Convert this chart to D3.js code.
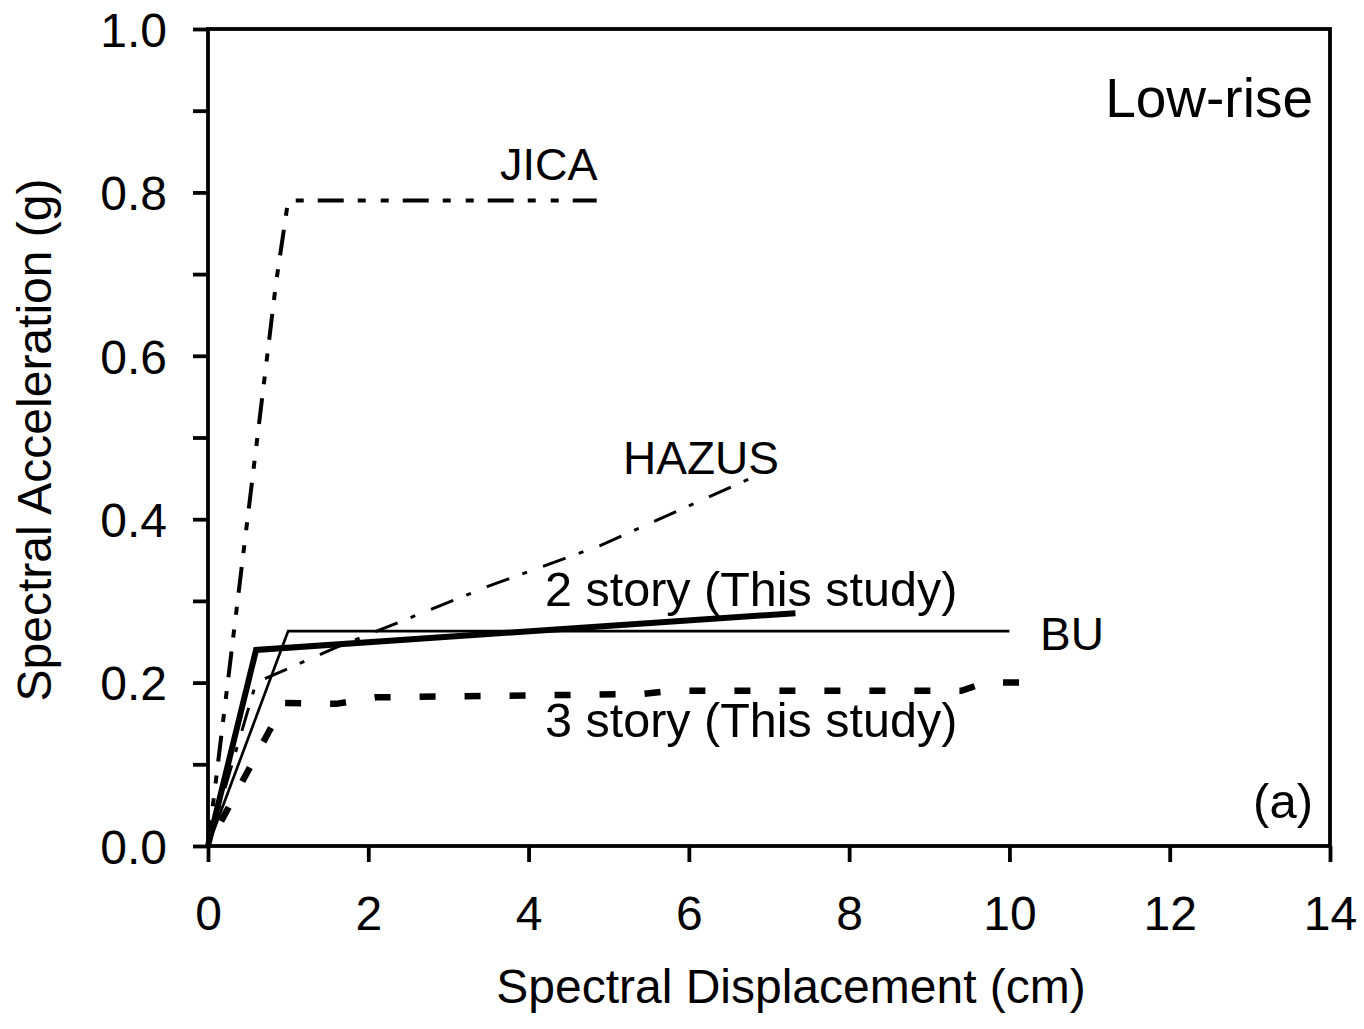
<!DOCTYPE html>
<html>
<head>
<meta charset="utf-8">
<script src="https://cdn.jsdelivr.net/npm/d3@7"></script>
<style>
  body { margin: 0; background: #fff; }
  svg text { font-family: "Liberation Sans", Arial, sans-serif; fill: #000; }
</style>
</head>
<body>
<div class="graph"></div>
<script>
// capacity curves, [Sd (cm), Sa (g)]
var jica = [[0, 0], [0.85, 0.69], [1.0, 0.79], [4.85, 0.79]];
var hazus = [[0, 0], [0.6, 0.2], [1.6, 0.243], [3.5, 0.318], [4.9, 0.368], [6.95, 0.458]];
var story2 = [[0, 0], [0.6, 0.24], [7.33, 0.285]];
var bu = [[0, 0], [1.0, 0.263], [10.0, 0.263]];
var story3 = [[0, 0], [0.95, 0.175], [1.6, 0.174], [2.1, 0.182], [5.4, 0.186], [5.8, 0.19], [9.4, 0.19], [9.7, 0.2], [10.12, 0.2]];

var xTicks = [0, 2, 4, 6, 8, 10, 12, 14];
var yTicks = [0, 0.1, 0.2, 0.3, 0.4, 0.5, 0.6, 0.7, 0.8, 0.9, 1.0];
var yLabels = [0, 0.2, 0.4, 0.6, 0.8, 1.0];

var w = 1364, h = 1029;
var margin = { top: 29, right: 34, bottom: 183, left: 208 };

var svg = d3.select(".graph")
    .append("svg")
    .attr("width", w)
    .attr("height", h);

var x = d3.scaleLinear().domain([0, 14]).range([margin.left, w - margin.right]);
var y = d3.scaleLinear().domain([0, 1]).range([h - margin.bottom, margin.top]);

// axes
var xAxis = svg.append("g")
    .attr("transform", "translate(0," + y(0) + ")")
    .call(d3.axisBottom(x).tickValues(xTicks).tickSize(16).tickPadding(34).tickFormat(d3.format("d")));

var yAxis = svg.append("g")
    .attr("transform", "translate(" + x(0) + ",0)")
    .call(d3.axisLeft(y).tickValues(yTicks).tickSize(15).tickPadding(26)
        .tickFormat(function(d) {
            return yLabels.some(function(v) { return Math.abs(v - d) < 1e-9; }) ? d3.format(".1f")(d) : "";
        }));

[xAxis, yAxis].forEach(function(g) {
    g.select(".domain").remove();
    g.selectAll("line").attr("stroke", "#000").attr("stroke-width", 3.8);
    g.selectAll("text").style("font-size", "48px").attr("fill", "#000");
});
yAxis.selectAll("text").attr("dy", "0.36em");

// frame
svg.append("rect")
    .attr("x", x(0))
    .attr("y", y(1))
    .attr("width", x(14) - x(0))
    .attr("height", y(0) - y(1))
    .attr("fill", "none")
    .attr("stroke", "#000")
    .attr("stroke-width", 3.8);

// curves
var line = d3.line()
    .x(function(d) { return x(d[0]); })
    .y(function(d) { return y(d[1]); });

var curves = [
    { data: jica, width: 4, dash: "26,14,8,15,8,14" },
    { data: hazus, width: 3, dash: "24,14,5,17" },
    { data: bu, width: 2.7, dash: null },
    { data: story3, width: 6.5, dash: "16,29", endOnDash: true },
    { data: story2, width: 6, dash: null }
];

svg.selectAll("path.curve")
    .data(curves)
    .enter()
    .append("path")
    .attr("class", "curve")
    .attr("d", function(d) { return line(d.data); })
    .attr("fill", "none")
    .attr("stroke", "#000")
    .attr("stroke-width", function(d) { return d.width; })
    .attr("stroke-dasharray", function(d) { return d.dash; })
    .attr("stroke-linejoin", "miter")
    .each(function(d) {
        // shift the dashes so the line finishes with a dash, like the original
        if (d.endOnDash) {
            var L = this.getTotalLength();
            var off = ((16 - L) % 45 + 45) % 45;
            d3.select(this).attr("stroke-dashoffset", off);
        }
    });

// labels on the curves
var notes = [
    { t: "JICA", x: 500, y: 180, size: 45, anchor: "start" },
    { t: "HAZUS", x: 623, y: 474, size: 46, anchor: "start" },
    { t: "2 story (This study)", x: 545, y: 606, size: 48.5, anchor: "start" },
    { t: "BU", x: 1040, y: 650, size: 46, anchor: "start" },
    { t: "3 story (This study)", x: 545, y: 737, size: 48.5, anchor: "start" },
    { t: "Low-rise", x: 1313, y: 117, size: 55, anchor: "end" },
    { t: "(a)", x: 1313, y: 818, size: 49, anchor: "end" }
];

svg.selectAll("text.note")
    .data(notes)
    .enter()
    .append("text")
    .attr("class", "note")
    .attr("x", function(d) { return d.x; })
    .attr("y", function(d) { return d.y; })
    .attr("text-anchor", function(d) { return d.anchor; })
    .style("font-size", function(d) { return d.size + "px"; })
    .text(function(d) { return d.t; });

// axis titles
svg.append("text")
    .attr("x", 791)
    .attr("y", 1003)
    .attr("text-anchor", "middle")
    .style("font-size", "48px")
    .text("Spectral Displacement (cm)");

svg.append("text")
    .attr("transform", "translate(51,440) rotate(-90)")
    .attr("text-anchor", "middle")
    .style("font-size", "48px")
    .text("Spectral Acceleration (g)");
</script>
</body>
</html>
